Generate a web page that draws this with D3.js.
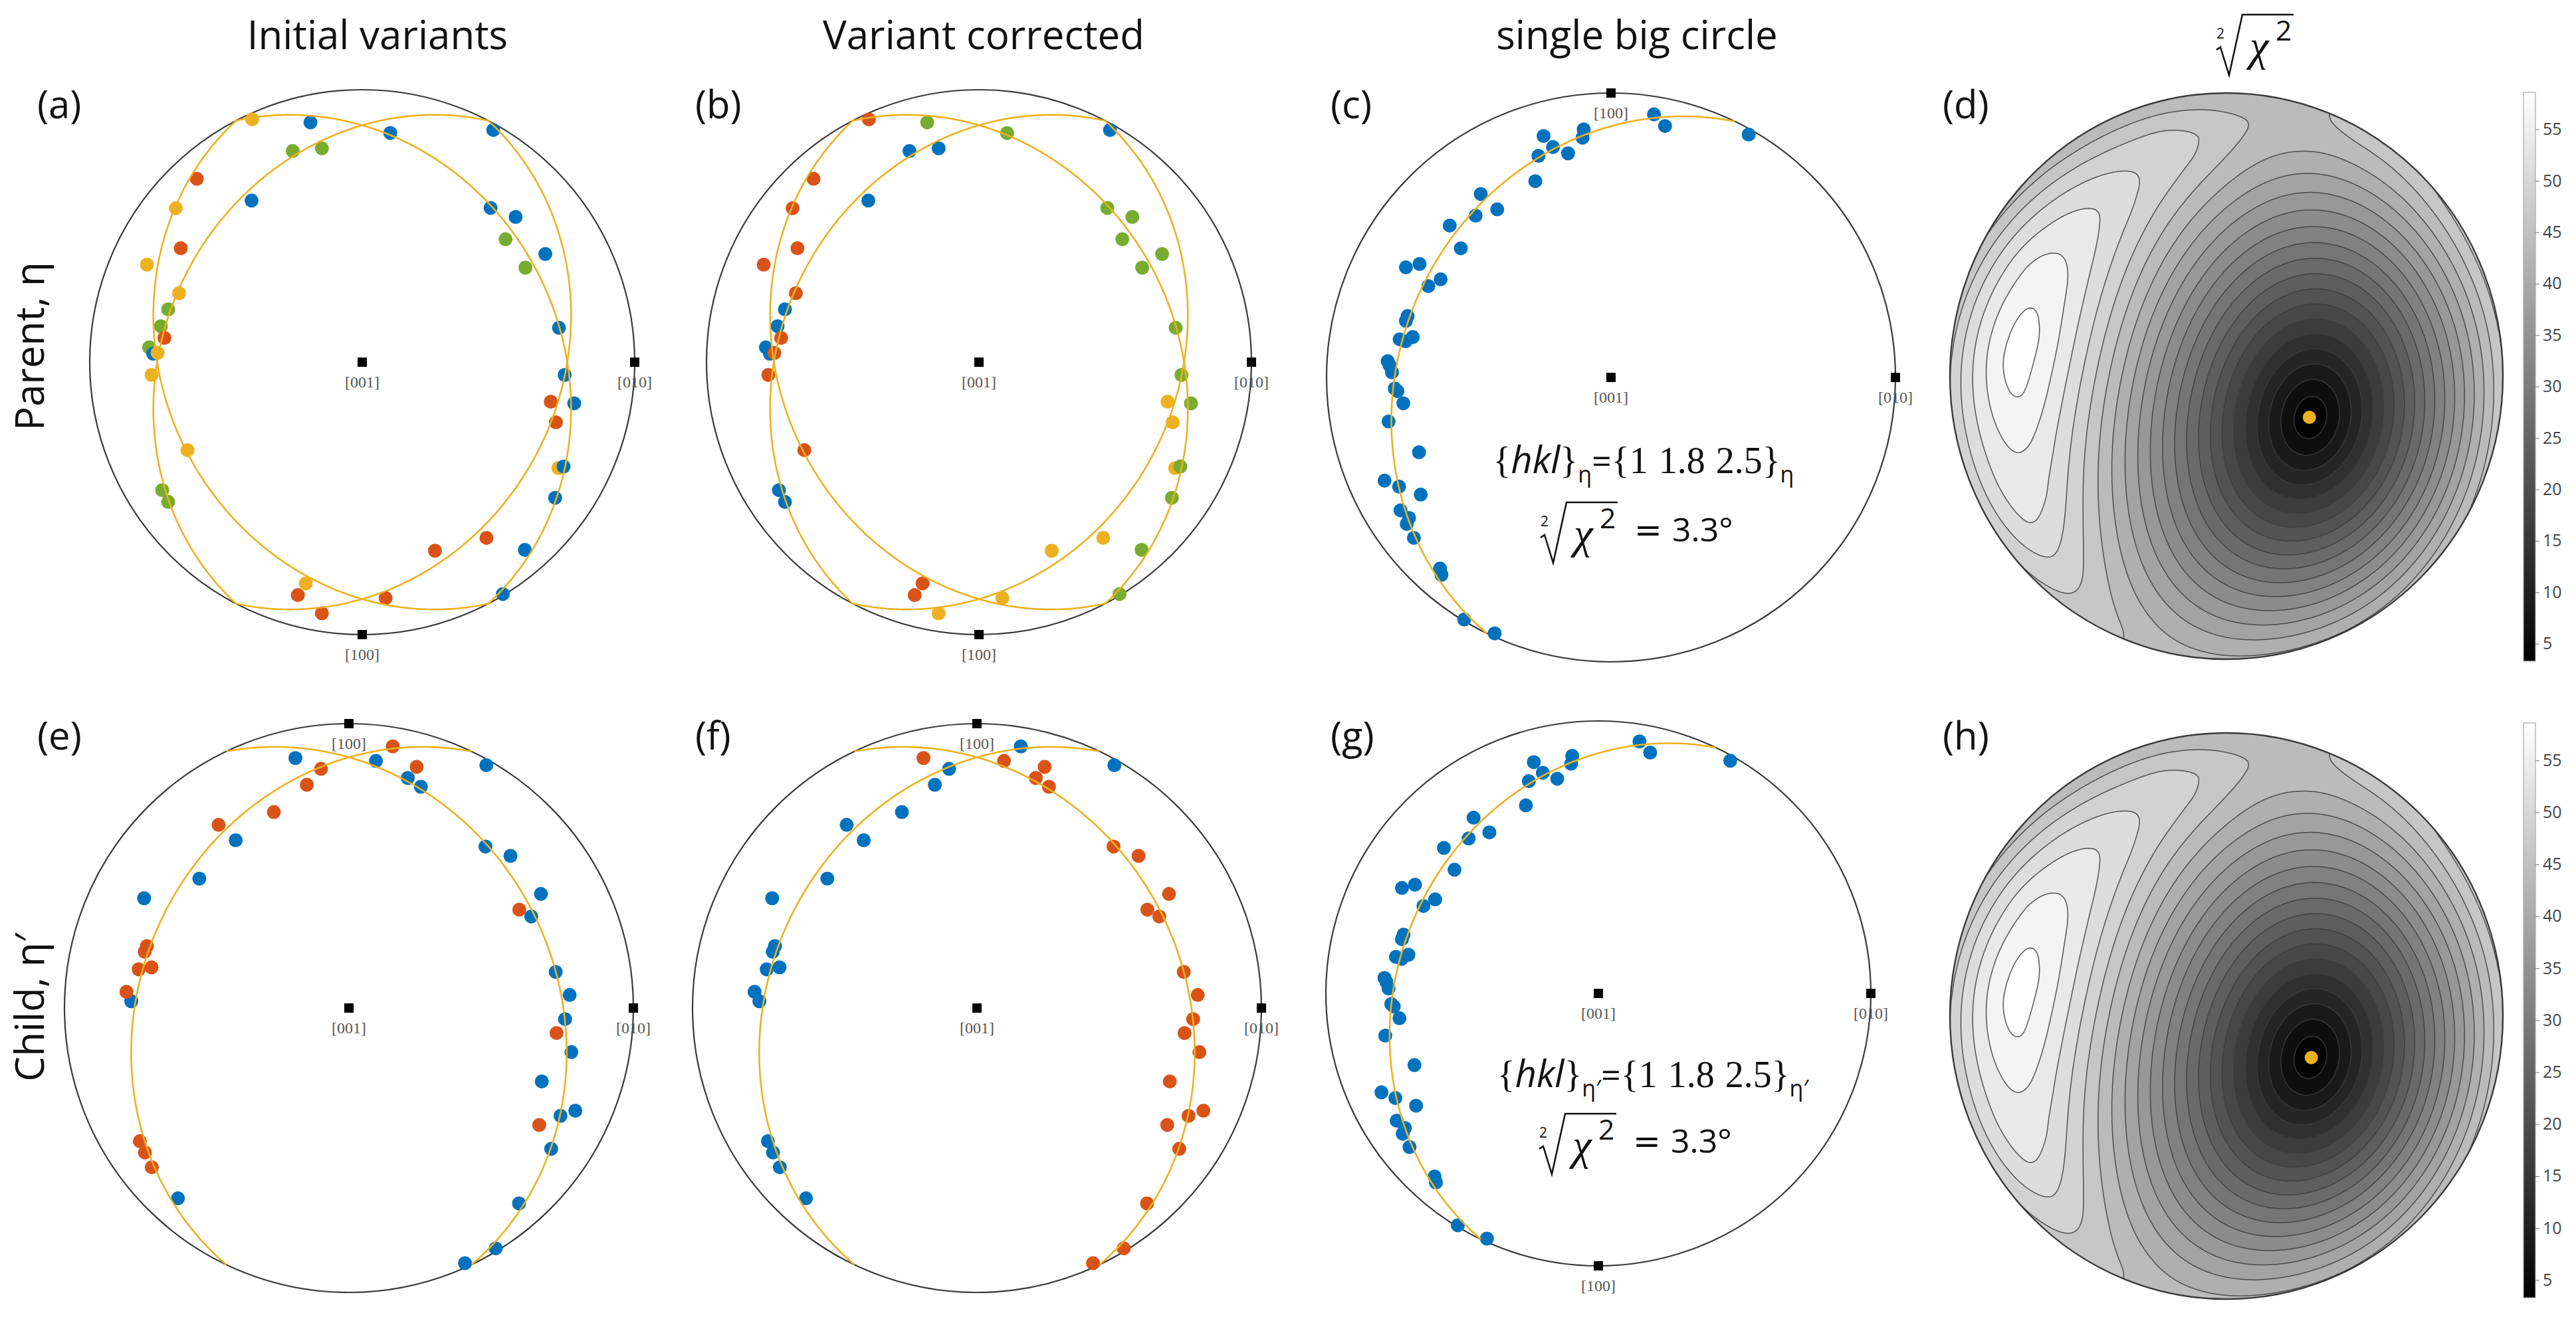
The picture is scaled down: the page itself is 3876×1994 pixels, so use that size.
<!DOCTYPE html>
<html><head><meta charset="utf-8"><title>Pole figures</title>
<script src="https://cdn.jsdelivr.net/npm/d3@7/dist/d3.min.js"></script>
<style>html,body{margin:0;padding:0;background:#fff;} svg{display:block;}</style>
</head><body>
<svg id="fig" width="3876" height="1994" xmlns="http://www.w3.org/2000/svg"></svg>
<script>
// ================= DATA (equal-area pole-figure coordinates, unit disk) =================
const variantColor = {B:"#0072BD", R:"#D95319", Y:"#EDB120", G:"#77AC30"};

// Parent (eta) poles, panels (a) and (b)
const parentPoles = [
 [-0.404,-0.891],[-0.190,-0.880],[0.103,-0.841],[0.481,-0.852],[-0.255,-0.775],[-0.148,-0.785],
 [-0.607,-0.673],[-0.684,-0.565],[-0.406,-0.593],[-0.666,-0.418],[-0.790,-0.358],[-0.672,-0.253],
 [-0.712,-0.194],[-0.739,-0.132],[-0.726,-0.089],[-0.782,-0.054],[-0.767,-0.031],[-0.751,-0.034],
 [-0.773,0.047],[0.471,-0.566],[0.563,-0.533],[0.526,-0.451],[0.672,-0.397],[0.599,-0.347],
 [0.722,-0.126],[0.743,0.047],[0.692,0.145],[0.778,0.151],[0.711,0.221],[0.720,0.389],
 [0.739,0.383],[0.708,0.498],[-0.641,0.323],[-0.734,0.470],[-0.712,0.513],[0.456,0.645],
 [0.267,0.692],[0.597,0.689],[-0.207,0.812],[-0.236,0.855],[0.086,0.866],[-0.148,0.922],[0.516,0.851]
];
const parentVariantInitial   = ["Y","B","B","B","G","G","R","Y","B","R","Y","Y","G","G","R","G","B","Y","Y","B","B","G","B","G","B","B","R","B","R","Y","B","B","Y","G","G","R","R","B","Y","R","R","R","B"];
const parentVariantCorrected = ["R","G","G","B","B","B","R","R","B","R","R","R","B","B","R","B","B","R","R","G","G","G","G","G","G","G","Y","G","Y","Y","G","G","R","B","B","Y","Y","G","R","R","Y","Y","G"];

// Child (eta') poles, panels (e) and (f)
const childPoles = [
 [-0.188,-0.879],[0.095,-0.869],[0.483,-0.854],[0.207,-0.809],[0.253,-0.778],[-0.398,-0.590],
 [-0.526,-0.455],[-0.720,-0.386],[0.480,-0.568],[0.568,-0.535],[0.675,-0.401],[0.641,-0.322],
 [-0.765,-0.024],[0.727,-0.127],[0.776,-0.046],[0.760,0.039],[0.782,0.155],[0.678,0.258],
 [0.796,0.361],[0.744,0.379],[0.711,0.495],[-0.601,0.669],[0.598,0.687],[0.516,0.845],[0.408,0.897],
 [0.154,-0.920],[-0.098,-0.841],[0.238,-0.848],[-0.148,-0.785],[-0.264,-0.689],[-0.458,-0.644],
 [-0.710,-0.218],[-0.718,-0.198],[-0.739,-0.136],[-0.694,-0.143],[-0.782,-0.057],[0.599,-0.346],
 [0.730,0.088],[0.669,0.411],[-0.735,0.468],[-0.717,0.508],[-0.693,0.560]
];
const childVariantInitial   = ["B","B","B","B","B","B","B","B","B","B","B","B","B","B","B","B","B","B","B","B","B","B","B","B","B","R","R","R","R","R","R","R","R","R","R","R","R","R","R","R","R","R"];
const childVariantCorrected = ["R","R","B","R","R","B","B","B","R","R","R","R","B","R","R","R","R","R","R","R","R","B","R","R","R","B","B","R","B","B","B","B","B","B","B","B","R","R","R","B","B","B"];

// All poles on one big circle, panels (c) and (g)
const singleCirclePoles = [
 [0.151,-0.925],[0.190,-0.884],[0.484,-0.854],[-0.096,-0.872],[-0.100,-0.843],[-0.237,-0.849],
 [-0.204,-0.810],[-0.255,-0.779],[-0.151,-0.788],[-0.266,-0.690],[-0.458,-0.645],[-0.400,-0.591],
 [-0.476,-0.569],[-0.567,-0.534],[-0.528,-0.454],[-0.721,-0.387],[-0.673,-0.399],[-0.599,-0.345],
 [-0.642,-0.321],[-0.715,-0.216],[-0.721,-0.199],[-0.743,-0.134],[-0.697,-0.142],[-0.722,-0.127],
 [-0.785,-0.057],[-0.778,-0.042],[-0.770,-0.018],[-0.760,0.039],[-0.751,0.048],[-0.730,0.091],
 [-0.782,0.155],[-0.675,0.263],[-0.796,0.363],[-0.745,0.384],[-0.669,0.412],[-0.740,0.467],
 [-0.710,0.494],[-0.718,0.515],[-0.693,0.564],[-0.601,0.672],[-0.596,0.694],[-0.516,0.851],[-0.409,0.900]
];

// Fitted plane normals (x right, y down, z out of page)
const parentVariantNormals = [[0.423,0.221,0.879],[-0.423,0.221,0.879],[0.423,-0.221,0.879],[-0.423,-0.221,0.879]];
const childVariantNormals  = [[0.4227,0.202,0.8835],[-0.4227,0.202,0.8835]];
const parentSingleNormal = [0.4125,0.200,0.889];
const childSingleNormal  = [0.4215,0.2014,0.884];

const axesBottom100 = [{label:"[001]",x:0,y:0},{label:"[010]",x:1,y:0},{label:"[100]",x:0,y:1}];
const axesTop100    = [{label:"[001]",x:0,y:0},{label:"[010]",x:1,y:0},{label:"[100]",x:0,y:-1}];

const contourLevels = [5,7.5,10,12.5,15,17.5,20,22.5,25,27.5,30,32.5,35,37.5,40,42.5,45,47.5,50,52.5,55,57.5];
const colorbarTicks = [5,10,15,20,25,30,35,40,45,50,55];
const colorbarDomain = [3.3,58.6];

const columnTitles = [{text:"Initial variants",x:568},{text:"Variant corrected",x:1480},{text:"single big circle",x:2463}];
const rowLabels = [{text:"Parent, η",y:521},{text:"Child, η′",y:1516}];

// ================= HELPERS =================
const svg = d3.select("#fig");
const SANS = "'Open Sans', 'Noto Sans', sans-serif";
const SERIF = "'Liberation Serif', 'DejaVu Serif', serif";
const norm = v => { const l = Math.hypot(v[0],v[1],v[2]); return [v[0]/l,v[1]/l,v[2]/l]; };
const cross = (a,b) => [a[1]*b[2]-a[2]*b[1], a[2]*b[0]-a[0]*b[2], a[0]*b[1]-a[1]*b[0]];
function toSphere(p){ // inverse Lambert equal-area (upper hemisphere)
  let x=p[0], y=p[1], r2=x*x+y*y;
  if (r2>1){ const r=Math.sqrt(r2); x/=r; y/=r; r2=1; }
  const s=Math.sqrt(2-r2); return [x*s, y*s, 1-r2];
}
function toPlane(v){ const s=Math.sqrt(1+v[2]); return [v[0]/s, v[1]/s]; }
function greatCircle(n0){
  const n = norm(n0), u = norm(cross([0,0,1], n)), w = norm(cross(n,u));
  return d3.range(0, 361).map(k => { const t = Math.PI*k/360;
    return toPlane([u[0]*Math.cos(t)+w[0]*Math.sin(t), u[1]*Math.cos(t)+w[1]*Math.sin(t), u[2]*Math.cos(t)+w[2]*Math.sin(t)]); });
}

// ================= POLE FIGURES =================
const pfPanels = [
 {cx:545, cy:545, R:410, poles:parentPoles, variants:parentVariantInitial, normals:parentVariantNormals, axes:axesBottom100},
 {cx:1473, cy:545, R:410, poles:parentPoles, variants:parentVariantCorrected, normals:parentVariantNormals, axes:axesBottom100},
 {cx:2424, cy:568, R:428, poles:singleCirclePoles, variants:null, normals:[parentSingleNormal], axes:axesTop100},
 {cx:525, cy:1517, R:428, poles:childPoles, variants:childVariantInitial, normals:childVariantNormals, axes:axesTop100},
 {cx:1470, cy:1517, R:428, poles:childPoles, variants:childVariantCorrected, normals:childVariantNormals, axes:axesTop100},
 {cx:2405, cy:1495, R:410, poles:singleCirclePoles, variants:null, normals:[childSingleNormal], axes:axesBottom100}
];

pfPanels.forEach(p => {
  const xs = d3.scaleLinear().domain([-1,1]).range([p.cx-p.R, p.cx+p.R]);
  const ys = d3.scaleLinear().domain([-1,1]).range([p.cy-p.R, p.cy+p.R]);
  const g = svg.append("g");
  g.append("circle").attr("cx", xs(0)).attr("cy", ys(0)).attr("r", xs(1)-xs(0))
    .attr("fill","none").attr("stroke","#3a3a3a").attr("stroke-width",2.2);
  g.selectAll("circle.pole").data(p.poles).join("circle").attr("class","pole")
    .attr("cx", d=>xs(d[0])).attr("cy", d=>ys(d[1])).attr("r", 10.5)
    .attr("fill", (d,i)=> p.variants ? variantColor[p.variants[i]] : variantColor.B);
  const line = d3.line().x(d=>xs(d[0])).y(d=>ys(d[1]));
  g.selectAll("path.gc").data(p.normals.map(greatCircle)).join("path").attr("class","gc")
    .attr("d", line).attr("fill","none").attr("stroke","#EDB120").attr("stroke-width",2.6);
  p.axes.forEach(a => {
    g.append("rect").attr("x", xs(a.x)-7).attr("y", ys(a.y)-7).attr("width",14).attr("height",14).attr("fill","#000");
    g.append("text").attr("x", xs(a.x)).attr("y", ys(a.y)+38).attr("text-anchor","middle")
      .attr("font-family",SERIF).attr("font-size",24).attr("fill","#555").text(a.label);
  });
});

// ================= MISFIT MAPS (d), (h) =================
function misfitField(poles, N, L){
  const vs = poles.map(toSphere), vals = new Float64Array(N*N);
  for (let j=0;j<N;j++) for (let i=0;i<N;i++){
    const n = toSphere([-L+(i+0.5)*2*L/N, -L+(j+0.5)*2*L/N]);
    let s=0;
    for (const v of vs){ const d=Math.min(1,Math.abs(v[0]*n[0]+v[1]*n[1]+v[2]*n[2])); const a=Math.asin(d)*180/Math.PI; s+=a*a; }
    vals[i+j*N] = Math.sqrt(s/vs.length);
  }
  return vals;
}
const grey = d3.scaleLinear().domain(colorbarDomain).range(["#000000","#ffffff"]).clamp(true);
const defs = svg.append("defs");
const grad = defs.append("linearGradient").attr("id","cbgrad").attr("x1",0).attr("y1",1).attr("x2",0).attr("y2",0);
grad.append("stop").attr("offset",0).attr("stop-color",grey(colorbarDomain[0]));
grad.append("stop").attr("offset",1).attr("stop-color",grey(colorbarDomain[1]));

const mapPanels = [
 {id:"d", cx:3350, cy:566, rx:416, ry:426, poles:singleCirclePoles, normal:parentSingleNormal, cbx:3797, cby0:139, cby1:995},
 {id:"h", cx:3350, cy:1529, rx:416, ry:426, poles:singleCirclePoles, normal:childSingleNormal, cbx:3797, cby0:1088, cby1:1953}
];
const N=240, L=1.04, step=2.5;
mapPanels.forEach(p => {
  const xs = d3.scaleLinear().domain([-1,1]).range([p.cx-p.rx, p.cx+p.rx]);
  const ys = d3.scaleLinear().domain([-1,1]).range([p.cy-p.ry, p.cy+p.ry]);
  const vals = misfitField(p.poles, N, L);
  const gx = d3.scaleLinear().domain([0,N]).range([xs(-L), xs(L)]);
  const gy = d3.scaleLinear().domain([0,N]).range([ys(-L), ys(L)]);
  const path = d3.geoPath(d3.geoTransform({point(x,y){ this.stream.point(gx(x), gy(y)); }}));
  const bands = d3.contours().size([N,N]).thresholds(contourLevels)(vals);
  defs.append("clipPath").attr("id","clip"+p.id).append("ellipse")
    .attr("cx",xs(0)).attr("cy",ys(0)).attr("rx",xs(1)-xs(0)).attr("ry",ys(1)-ys(0));
  const g = svg.append("g").attr("clip-path",`url(#clip${p.id})`);
  g.append("ellipse").attr("cx",xs(0)).attr("cy",ys(0)).attr("rx",xs(1)-xs(0)).attr("ry",ys(1)-ys(0))
    .attr("fill",grey((colorbarDomain[0]+contourLevels[0])/2));
  g.selectAll("path.band").data(bands).join("path").attr("class","band").attr("d",path)
    .attr("fill",d=>grey(d.value+step/2));
  g.selectAll("path.iso").data(bands).join("path").attr("class","iso").attr("d",path)
    .attr("fill","none").attr("stroke","#3c3c3c").attr("stroke-opacity",0.85).attr("stroke-width",1.5);
  svg.append("ellipse").attr("cx",xs(0)).attr("cy",ys(0)).attr("rx",xs(1)-xs(0)).attr("ry",ys(1)-ys(0))
    .attr("fill","none").attr("stroke","#3a3a3a").attr("stroke-width",2.4);
  const fp = toPlane(norm(p.normal));
  svg.append("circle").attr("cx",xs(fp[0])).attr("cy",ys(fp[1])).attr("r",10).attr("fill","#EDB120");
  // colorbar
  const cb = d3.scaleLinear().domain(colorbarDomain).range([p.cby1, p.cby0]);
  svg.append("rect").attr("x",p.cbx).attr("y",p.cby0).attr("width",18).attr("height",p.cby1-p.cby0)
    .attr("fill","url(#cbgrad)").attr("stroke","#aaa").attr("stroke-width",1.2);
  const ax = svg.append("g").attr("transform",`translate(${p.cbx+18},0)`)
    .call(d3.axisRight(cb).tickValues(colorbarTicks).tickSize(6).tickPadding(5));
  ax.select(".domain").remove();
  ax.selectAll("line").attr("stroke","#777");
  ax.selectAll("text").attr("font-family",SANS).attr("font-size",25).attr("fill","#444");
});

// ================= TEXT =================
function radical(x0, base, s, tail){
  const g = svg.append("g");
  g.append("text").attr("x",x0).attr("y",base-0.46*s).attr("font-family",SANS).attr("font-size",0.42*s).text("2");
  g.append("path").attr("d",`M${x0},${base-0.12*s} L${x0+0.12*s},${base-0.2*s} L${x0+0.38*s},${base+0.64*s} L${x0+0.78*s},${base-1.18*s} H${x0+2.32*s}`)
    .attr("fill","none").attr("stroke","#111").attr("stroke-width",0.05*s).attr("stroke-linejoin","miter");
  g.append("text").attr("x",x0+1.0*s).attr("y",base+0.2*s).attr("font-family",SERIF).attr("font-style","italic").attr("font-size",1.3*s).text("χ");
  g.append("text").attr("x",x0+1.78*s).attr("y",base-0.4*s).attr("font-family",SANS).attr("font-size",0.85*s).text("2");
  if (tail){
    g.append("text").attr("x",x0+2.82*s).attr("y",base).attr("font-family","'DejaVu Sans', sans-serif").attr("font-size",s).text("=");
    g.append("text").attr("x",x0+3.96*s).attr("y",base).attr("font-family",SANS).attr("font-size",s).text(tail);
  }
  g.selectAll("text").attr("fill","#111");
}
function hklLine(x, base, sub){
  const t = svg.append("text").attr("x",x).attr("y",base).attr("text-anchor","middle").attr("fill","#111").attr("font-size",56);
  t.append("tspan").attr("font-family",SERIF).text("{");
  t.append("tspan").attr("font-family",SANS).attr("font-style","italic").attr("font-size",56).text("hkl");
  t.append("tspan").attr("font-family",SERIF).text("}");
  t.append("tspan").attr("font-family",SANS).attr("font-size",34).attr("dy",14).text(sub);
  t.append("tspan").attr("font-family",SANS).attr("font-size",52).attr("dy",-14).text("=");
  t.append("tspan").attr("font-family",SERIF).attr("word-spacing",2).text("{1 1.8 2.5}");
  t.append("tspan").attr("font-family",SANS).attr("font-size",34).attr("dy",14).text(sub);
}
hklLine(2473, 712, "η");  radical(2318, 815, 50, "3.3°");
hklLine(2487, 1636, "η′"); radical(2316, 1735, 50, "3.3°");
radical(3335, 81, 50, null);

columnTitles.forEach(c => svg.append("text").attr("x",c.x).attr("y",74).attr("text-anchor","middle")
  .attr("font-family",SANS).attr("font-size",60).attr("fill","#111").text(c.text));
rowLabels.forEach(r => svg.append("text").attr("transform",`translate(66,${r.y}) rotate(-90)`).attr("text-anchor","middle")
  .attr("font-family",SANS).attr("font-size",60).attr("fill","#111").text(r.text));
const panelLetters = [["(a)",56,178],["(b)",1046,178],["(c)",2002,178],["(d)",2923,178],["(e)",56,1128],["(f)",1046,1128],["(g)",2002,1128],["(h)",2923,1128]];
panelLetters.forEach(l => svg.append("text").attr("x",l[1]).attr("y",l[2]).attr("font-family",SANS).attr("font-size",58).attr("fill","#111").text(l[0]));
</script></body></html>
